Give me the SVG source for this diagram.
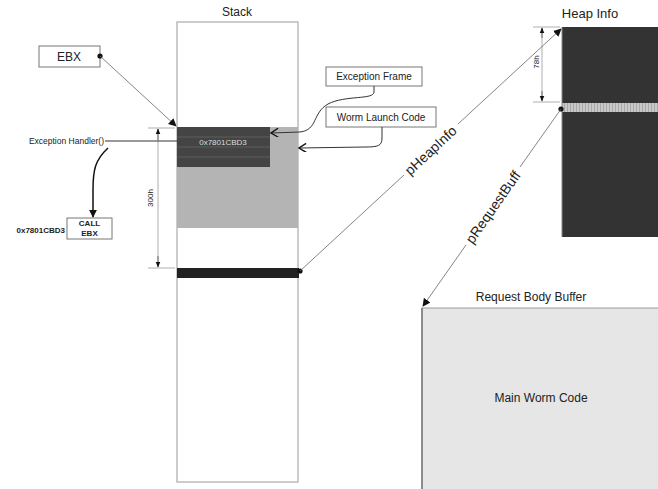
<svg xmlns="http://www.w3.org/2000/svg" width="658" height="489" viewBox="0 0 658 489">
<defs>
<style>
text{font-family:"Liberation Sans",Arial,sans-serif;fill:#222}
.box{fill:#fff;stroke:#777;stroke-width:1}
.con{fill:none;stroke:#333;stroke-width:1}
.thick{fill:none;stroke:#111;stroke-width:1.5}
.thin{fill:none;stroke:#666;stroke-width:0.8}
.dim{fill:none;stroke:#999;stroke-width:0.8}
</style>
<marker id="ah" viewBox="0 0 10 10" refX="9" refY="5" markerWidth="8" markerHeight="8" orient="auto-start-reverse" markerUnits="userSpaceOnUse">
<path d="M0,0 L10,5 L0,10 z" fill="#111"/>
</marker>
<marker id="ahs" viewBox="0 0 10 10" refX="9" refY="5" markerWidth="6" markerHeight="6" orient="auto-start-reverse" markerUnits="userSpaceOnUse">
<path d="M0,1 L10,5 L0,9 z" fill="#111"/>
</marker>
<marker id="ao" viewBox="0 0 10 10" refX="9" refY="5" markerWidth="9" markerHeight="9" orient="auto" markerUnits="userSpaceOnUse">
<path d="M1,0 L9,5 L1,10" fill="none" stroke="#111" stroke-width="1.6"/>
</marker>
<pattern id="hatch" width="3" height="10" patternUnits="userSpaceOnUse">
<rect width="3" height="10" fill="#c8c8c8"/>
<rect width="1" height="10" fill="#a8a8a8"/>
</pattern>
</defs>
<rect width="658" height="489" fill="#fff"/>

<g id="stack">
<text x="237" y="16" font-size="12" text-anchor="middle">Stack</text>
<rect x="177" y="22" width="121" height="460" fill="#fff" stroke="#aaa" stroke-width="1.2"/>
<rect x="177" y="127" width="121" height="101" fill="#b4b4b4"/>
<rect x="177" y="127" width="93" height="40" fill="#444"/>
<g stroke="#666" stroke-width="0.8">
<line x1="177" y1="137" x2="270" y2="137"/>
<line x1="177" y1="147" x2="270" y2="147"/>
<line x1="177" y1="157" x2="270" y2="157"/>
</g>
<text x="223" y="145" font-size="8" text-anchor="middle" style="fill:#ddd">0x7801CBD3</text>
<rect x="177" y="268" width="122" height="10" fill="#222"/>
</g>

<g id="dim300">
<line class="dim" x1="148" y1="128" x2="175" y2="128"/>
<line class="dim" x1="148" y1="268" x2="175" y2="268"/>
<line class="dim" x1="158" y1="140" x2="158" y2="256"/>
<line x1="158" y1="140" x2="158" y2="129" stroke="#111" stroke-width="0.8" marker-end="url(#ahs)"/>
<line x1="158" y1="256" x2="158" y2="267" stroke="#111" stroke-width="0.8" marker-end="url(#ahs)"/>
<text x="0" y="0" font-size="8" text-anchor="middle" transform="translate(153,198) rotate(-90)">300h</text>
</g>

<g id="ebx">
<rect class="box" x="39" y="46" width="61" height="21"/>
<text x="69" y="61" font-size="12" text-anchor="middle">EBX</text>
</g>

<g id="handler">
<text x="104" y="144" font-size="8.5" text-anchor="end">Exception Handler()</text>
</g>

<g id="callebx">
<rect class="box" x="67" y="218" width="45" height="21"/>
<text x="89.5" y="226" font-size="8" font-weight="bold" text-anchor="middle">CALL</text>
<text x="89.5" y="236" font-size="8" font-weight="bold" text-anchor="middle">EBX</text>
<text x="65" y="233" font-size="8" font-weight="bold" text-anchor="end">0x7801CBD3</text>
</g>

<g id="exframe">
<rect class="box" x="326" y="67" width="96" height="19"/>
<text x="374" y="80" font-size="10" text-anchor="middle">Exception Frame</text>
</g>

<g id="wormlaunch">
<rect class="box" x="326" y="107" width="110" height="20"/>
<text x="381" y="121" font-size="10" text-anchor="middle">Worm Launch Code</text>
</g>

<g id="heapinfo">
<text x="590" y="18" font-size="13" text-anchor="middle">Heap Info</text>
<rect x="562" y="27" width="96" height="210" fill="#333"/>
<rect x="562" y="103" width="96" height="9" fill="url(#hatch)"/>
<line x1="562" y1="27" x2="562" y2="237" stroke="#888" stroke-width="1"/>
</g>

<g id="dim78">
<line class="dim" x1="533" y1="27" x2="560" y2="27"/>
<line class="dim" x1="533" y1="102" x2="560" y2="102"/>
<line class="dim" x1="542" y1="38" x2="542" y2="91"/>
<line x1="542" y1="38" x2="542" y2="28" stroke="#111" stroke-width="0.8" marker-end="url(#ahs)"/>
<line x1="542" y1="91" x2="542" y2="101" stroke="#111" stroke-width="0.8" marker-end="url(#ahs)"/>
<text x="0" y="0" font-size="8" text-anchor="middle" transform="translate(539,62) rotate(-90)">78h</text>
</g>

<g id="reqbuf">
<text x="531" y="301" font-size="12" text-anchor="middle">Request Body Buffer</text>
<rect x="422" y="308" width="240" height="184" fill="#e6e6e6" stroke="#999" stroke-width="1"/>
<line x1="422" y1="308" x2="422" y2="489" stroke="#666" stroke-width="1.2"/>
<text x="541" y="402" font-size="12" text-anchor="middle">Main Worm Code</text>
</g>

<g id="connectors">
<circle cx="100" cy="56" r="2.6" fill="#111"/>
<line class="thin" x1="100" y1="56" x2="176" y2="126" marker-end="url(#ah)"/>
<line class="con" x1="105" y1="141" x2="177" y2="141" stroke-width="1.2"/>
<path class="thick" d="M108,148 C95,160 93,170 93,190 L93,217" marker-end="url(#ah)"/>
<path class="con" stroke-width="1.2" d="M374,86 L374,92 C374,100 345,95 328,104 C312,113 318,130 300,132 L271,133" marker-end="url(#ao)"/>
<path class="con" stroke-width="1.2" d="M382,127 L382,138 C382,146 378,147 365,147 L299,148" marker-end="url(#ao)"/>
<circle cx="300" cy="271" r="2.6" fill="#111"/>
<line class="thin" x1="300" y1="271" x2="404" y2="175"/>
<line class="thin" x1="458" y1="124" x2="561" y2="29" marker-end="url(#ah)"/>
<text x="0" y="0" font-size="14" text-anchor="middle" transform="translate(434,154) rotate(-42.8)">pHeapInfo</text>
<circle cx="561" cy="109" r="2.6" fill="#111"/>
<line class="thin" x1="561" y1="109" x2="520" y2="167"/>
<line class="thin" x1="466" y1="245" x2="423" y2="306" marker-end="url(#ah)"/>
<text x="0" y="0" font-size="14" text-anchor="middle" transform="translate(497,210) rotate(-55)">pRequestBuff</text>
</g>
</svg>
